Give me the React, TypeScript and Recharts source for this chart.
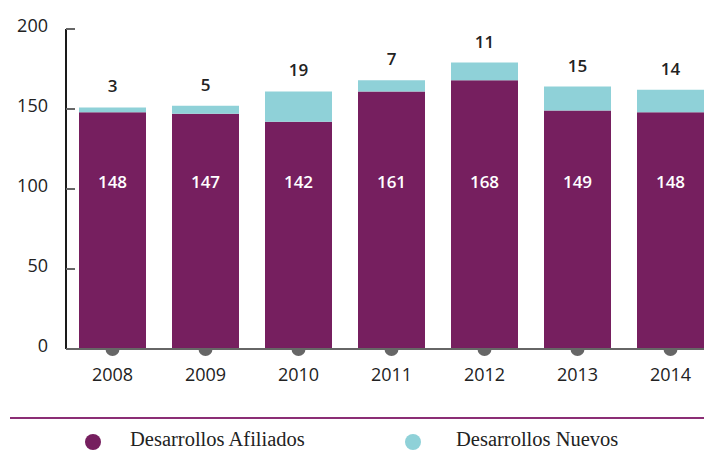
import { Bar, BarChart, LabelList, XAxis, YAxis } from "recharts";

const years = ["2008", "2009", "2010", "2011", "2012", "2013", "2014"];
const afiliados = [148, 147, 142, 161, 168, 149, 148];
const nuevos = [3, 5, 19, 7, 11, 15, 14];
const yTicks = [0, 50, 100, 150, 200];

const PURPLE = "#761F5F";
const CYAN = "#8FD1D8";
const SANS = "'Open Sans', Lato, sans-serif";

const data = years.map((year, i) => ({
  year,
  afiliados: afiliados[i],
  nuevos: nuevos[i],
}));

const YTick = (props: any) => {
  const { x, y, payload } = props;
  return (
    <g>
      <line x1={x} x2={x + 9} y1={y} y2={y} stroke="#666" strokeWidth={2} />
      <text x={x - 18} y={y + 3} textAnchor="end" fontSize={18} fill="#222" fontFamily={SANS}>
        {payload.value}
      </text>
    </g>
  );
};

const XTick = (props: any) => {
  const { x, y, payload } = props;
  return (
    <g>
      <path d={`M ${x - 7} ${y} A 7 7 0 0 0 ${x + 7} ${y} Z`} fill="#666" />
      <text x={x} y={y + 32} textAnchor="middle" fontSize={18} fill="#222" fontFamily={SANS}>
        {payload.value}
      </text>
    </g>
  );
};

const InsideLabel = (props: any) => {
  const { x, y, width, height, value } = props;
  return (
    <text
      x={x + width / 2}
      y={y + height - 161}
      textAnchor="middle"
      fontSize={17}
      fontWeight={600}
      fill="#fff"
      fontFamily={SANS}
    >
      {value}
    </text>
  );
};

const TopLabel = (props: any) => {
  const { x, y, width, value } = props;
  return (
    <text
      x={x + width / 2}
      y={y - 15}
      textAnchor="middle"
      fontSize={17}
      fontWeight={600}
      fill="#222"
      fontFamily={SANS}
    >
      {value}
    </text>
  );
};

const legendItems = [
  { name: "Desarrollos Afiliados", color: PURPLE, left: 85, textLeft: 130 },
  { name: "Desarrollos Nuevos", color: CYAN, left: 405, textLeft: 456 },
];

export default function App() {
  return (
    <div
      style={{
        position: "absolute",
        left: 0,
        top: 0,
        width: 704,
        height: 454,
        overflow: "hidden",
        background: "#fff",
      }}
    >
      <BarChart
        width={717}
        height={454}
        data={data}
        margin={{ top: 29, right: 0, bottom: 75, left: 0 }}
      >
        <YAxis
          width={66}
          domain={[0, 200]}
          ticks={yTicks}
          interval={0}
          tickSize={0}
          tickMargin={0}
          tickLine={false}
          axisLine={{ stroke: "#1a1a1a", strokeWidth: 2 }}
          tick={<YTick />}
        />
        <XAxis
          dataKey="year"
          height={30}
          tickSize={0}
          tickMargin={0}
          tickLine={false}
          axisLine={{ stroke: "#666", strokeWidth: 2 }}
          tick={<XTick />}
        />
        <Bar dataKey="afiliados" stackId="a" fill={PURPLE} barSize={67} isAnimationActive={false}>
          <LabelList dataKey="afiliados" content={<InsideLabel />} />
        </Bar>
        <Bar dataKey="nuevos" stackId="a" fill={CYAN} barSize={67} isAnimationActive={false}>
          <LabelList dataKey="nuevos" content={<TopLabel />} />
        </Bar>
      </BarChart>
      <div
        style={{
          position: "absolute",
          left: 10,
          top: 417,
          width: 694,
          height: 2,
          background: "#8B2E75",
        }}
      />
      {legendItems.map((item) => (
        <div key={item.name}>
          <div
            style={{
              position: "absolute",
              left: item.left,
              top: 434,
              width: 16,
              height: 16,
              borderRadius: "50%",
              background: item.color,
            }}
          />
          <div
            style={{
              position: "absolute",
              left: item.textLeft,
              top: 428,
              fontFamily: "'Liberation Serif', 'DejaVu Serif', serif",
              fontSize: 20.5,
              color: "#222",
              whiteSpace: "nowrap",
            }}
          >
            {item.name}
          </div>
        </div>
      ))}
    </div>
  );
}
